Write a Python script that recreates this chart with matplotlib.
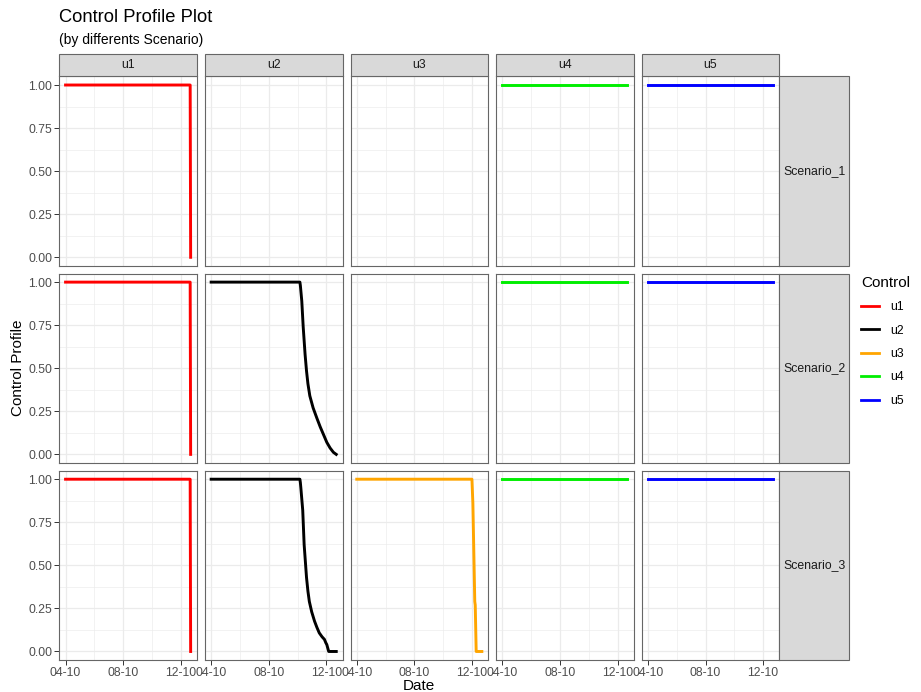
import numpy as np
import pandas as pd
import matplotlib
matplotlib.use("Agg")
import matplotlib.pyplot as plt
import matplotlib.dates as mdates
from matplotlib.lines import Line2D
from matplotlib.patches import Rectangle

plt.rcParams['font.family'] = ['Liberation Sans', 'DejaVu Sans']

# data
scenarios = ["Scenario_1", "Scenario_2", "Scenario_3"]
controls = ["u1", "u2", "u3", "u4", "u5"]
control_colors = ["#FF0000", "#000000", "#FFA500", "#00EE00", "#0000FF"]

date_start = "2020-04-10"
date_end = "2020-12-31"

# u1: full control until the last day (same in every scenario)
u1_dates = ["2020-04-10", "2020-12-30", "2020-12-31"]
u1_vals = [1.0, 1.0, 0.0]

# u2, scenario 2
u2_s2_dates = ["2020-04-10", "2020-10-15", "2020-10-16", "2020-10-17", "2020-10-19",
               "2020-10-22", "2020-10-26", "2020-10-29", "2020-11-01", "2020-11-05",
               "2020-11-12", "2020-11-20", "2020-11-27", "2020-12-04", "2020-12-11",
               "2020-12-18", "2020-12-25", "2020-12-31"]
u2_s2_vals = [1.0, 1.0, 0.98, 0.95, 0.89, 0.74, 0.58, 0.485, 0.41, 0.34,
              0.27, 0.21, 0.16, 0.115, 0.07, 0.037, 0.012, 0.0]

# u2, scenario 3
u2_s3_dates = ["2020-04-10", "2020-10-15", "2020-10-16", "2020-10-17", "2020-10-21",
               "2020-10-24", "2020-10-29", "2020-11-01", "2020-11-04", "2020-11-09",
               "2020-11-15", "2020-11-20", "2020-11-25", "2020-12-01", "2020-12-06",
               "2020-12-09", "2020-12-11", "2020-12-15", "2020-12-31"]
u2_s3_vals = [1.0, 1.0, 0.98, 0.95, 0.82, 0.62, 0.43, 0.35, 0.29, 0.23,
              0.176, 0.14, 0.108, 0.085, 0.07, 0.05, 0.04, 0.0, 0.0]

# u3, scenario 3
u3_s3_dates = ["2020-04-10", "2020-12-10", "2020-12-12", "2020-12-16", "2020-12-17",
               "2020-12-19", "2020-12-31"]
u3_s3_vals = [1.0, 1.0, 0.86, 0.29, 0.27, 0.0, 0.0]

# u4, u5: constant
flat_dates = ["2020-04-10", "2020-12-31"]
flat_vals = [1.0, 1.0]

profiles = {
    ("Scenario_1", "u1"): (u1_dates, u1_vals),
    ("Scenario_1", "u4"): (flat_dates, flat_vals),
    ("Scenario_1", "u5"): (flat_dates, flat_vals),
    ("Scenario_2", "u1"): (u1_dates, u1_vals),
    ("Scenario_2", "u2"): (u2_s2_dates, u2_s2_vals),
    ("Scenario_2", "u4"): (flat_dates, flat_vals),
    ("Scenario_2", "u5"): (flat_dates, flat_vals),
    ("Scenario_3", "u1"): (u1_dates, u1_vals),
    ("Scenario_3", "u2"): (u2_s3_dates, u2_s3_vals),
    ("Scenario_3", "u3"): (u3_s3_dates, u3_s3_vals),
    ("Scenario_3", "u4"): (flat_dates, flat_vals),
    ("Scenario_3", "u5"): (flat_dates, flat_vals),
}

x_major = ["2020-04-10", "2020-08-10", "2020-12-10"]
x_minor = ["2020-06-10", "2020-10-10"]
y_major = [0.0, 0.25, 0.5, 0.75, 1.0]
y_minor = [0.125, 0.375, 0.625, 0.875]

# layout (pixels)
W, H = 921, 692
fig = plt.figure(figsize=(W / 100, H / 100), dpi=100)

def fx(px):
    return px / W

def fy(py):
    return 1 - py / H

col_left0, col_step, col_w = 59.3, 145.6, 137.6
row_top0, row_step, row_h = 76.4, 197.1, 189.5
strip_top = 54.0
strip_right = 849.0

t0 = pd.Timestamp(date_start)
t1 = pd.Timestamp(date_end)
pad = (t1 - t0) * 0.05
xlim = (mdates.date2num(t0 - pad), mdates.date2num(t1 + pad))

border = "#333333"
grid_col = "#EBEBEB"
tick_col = "#4D4D4D"

for r, scen in enumerate(scenarios):
    top = row_top0 + r * row_step
    for c, ctrl in enumerate(controls):
        left = col_left0 + c * col_step
        ax = fig.add_axes([fx(left), fy(top + row_h), col_w / W, row_h / H])
        ax.set_xlim(*xlim)
        ax.set_ylim(-0.05, 1.05)
        ax.set_xticks(mdates.date2num(pd.to_datetime(x_major)))
        ax.set_xticks(mdates.date2num(pd.to_datetime(x_minor)), minor=True)
        ax.set_yticks(y_major)
        ax.set_yticks(y_minor, minor=True)
        ax.xaxis.set_major_formatter(mdates.DateFormatter("%m-%d"))
        ax.yaxis.set_major_formatter(plt.FuncFormatter(lambda v, p: f"{v:.2f}"))
        ax.grid(which="major", color=grid_col, lw=0.9)
        ax.grid(which="minor", color=grid_col, lw=0.45)
        ax.set_axisbelow(True)
        for s in ax.spines.values():
            s.set_color("#666666")
            s.set_linewidth(0.8)
        ax.tick_params(which="major", length=3.5, width=0.7, color=border,
                       labelsize=8.8, labelcolor=tick_col, pad=1.5)
        ax.tick_params(which="minor", length=0)
        if c > 0:
            ax.tick_params(axis="y", labelleft=False, length=0)
        if r < len(scenarios) - 1:
            ax.tick_params(axis="x", labelbottom=False, length=0)

        if (scen, ctrl) in profiles:
            d, v = profiles[(scen, ctrl)]
            ax.plot(pd.to_datetime(d), v, color=control_colors[c], lw=2.1,
                    solid_joinstyle="round")

        # top strips
        if r == 0:
            fig.add_artist(Rectangle((fx(left), fy(top)), col_w / W,
                                     (top - strip_top) / H, transform=fig.transFigure,
                                     facecolor="#D9D9D9", edgecolor="#666666", lw=0.8))
            fig.text(fx(left + col_w / 2), fy((strip_top + top) / 2), ctrl,
                     ha="center", va="center", fontsize=8.8, color="#1A1A1A")

    # right strips
    sx = col_left0 + 4 * col_step + col_w
    fig.add_artist(Rectangle((fx(sx), fy(top + row_h)), (strip_right - sx) / W,
                             row_h / H, transform=fig.transFigure,
                             facecolor="#D9D9D9", edgecolor="#666666", lw=0.8))
    fig.text(fx((sx + strip_right) / 2), fy(top + row_h / 2), scen,
             ha="center", va="center", fontsize=8.8, color="#1A1A1A")

# titles
fig.text(fx(59.3), fy(18), "Control Profile Plot", ha="left", va="center",
         fontsize=13.2, color="black")
fig.text(fx(59.3), fy(40), "(by differents Scenario)", ha="left", va="center",
         fontsize=10, color="black")
fig.text(fx(419.3), fy(686), "Date", ha="center", va="center", fontsize=11)
fig.text(fx(18), fy(368), "Control Profile", ha="center", va="center",
         fontsize=11, rotation=90)

# legend
handles = [Line2D([0], [0], color=col, lw=2.0) for col in control_colors]
leg = fig.legend(handles, controls, title="Control", loc="upper left",
                 bbox_to_anchor=(fx(850), fy(265)), frameon=False,
                 fontsize=8.8, title_fontsize=11, handlelength=1.5,
                 labelspacing=0.93, handletextpad=0.9)
leg._legend_box.align = "left"

fig.savefig("out.png", dpi=100)
